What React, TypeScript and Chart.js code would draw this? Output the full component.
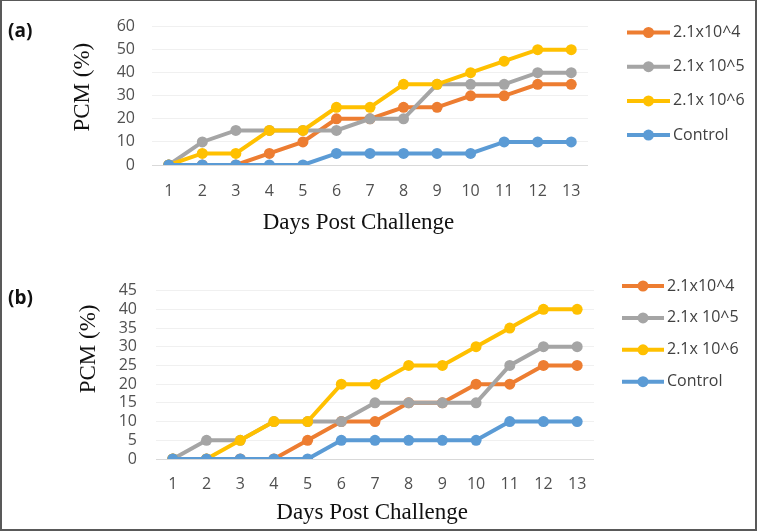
import React, { useEffect, useRef } from "react";
import { Chart, registerables } from "chart.js";

Chart.register(...registerables);

// ---------- data ----------
const days = ["1", "2", "3", "4", "5", "6", "7", "8", "9", "10", "11", "12", "13"];
const seriesLabels = ["2.1x10^4", "2.1x 10^5", "2.1x 10^6", "Control"];
const seriesColors = ["#ED7D31", "#A5A5A5", "#FFC000", "#5B9BD5"];

// panel (a)
const a_e4 = [0, 0, 0, 5, 10, 20, 20, 25, 25, 30, 30, 35, 35];
const a_e5 = [0, 10, 15, 15, 15, 15, 20, 20, 35, 35, 35, 40, 40];
const a_e6 = [0, 5, 5, 15, 15, 25, 25, 35, 35, 40, 45, 50, 50];
const a_ctrl = [0, 0, 0, 0, 0, 5, 5, 5, 5, 5, 10, 10, 10];
const yTicksA = [0, 10, 20, 30, 40, 50, 60];

// panel (b)
const b_e4 = [0, 0, 0, 0, 5, 10, 10, 15, 15, 20, 20, 25, 25];
const b_e5 = [0, 5, 5, 10, 10, 10, 15, 15, 15, 15, 25, 30, 30];
const b_e6 = [0, 0, 5, 10, 10, 20, 20, 25, 25, 30, 35, 40, 40];
const b_ctrl = [0, 0, 0, 0, 0, 5, 5, 5, 5, 5, 10, 10, 10];
const yTicksB = [0, 5, 10, 15, 20, 25, 30, 35, 40, 45];

const xTitle = "Days Post Challenge";
const yTitle = "PCM (%)";

// ---------- custom side legend ----------
const sideLegend = {
  id: "sideLegend",
  afterDraw(chart: any, _args: any, opts: any) {
    const ctx = chart.ctx;
    ctx.save();
    chart.data.datasets.forEach((ds: any, i: number) => {
      const y = opts.y0 + i * opts.dy;
      ctx.strokeStyle = ds.borderColor;
      ctx.lineWidth = 4;
      ctx.beginPath();
      ctx.moveTo(opts.x0, y);
      ctx.lineTo(opts.x1, y);
      ctx.stroke();
      ctx.fillStyle = ds.borderColor;
      ctx.beginPath();
      ctx.arc((opts.x0 + opts.x1) / 2, y, 5.5, 0, Math.PI * 2);
      ctx.fill();
      ctx.fillStyle = "#404040";
      ctx.font = '16px "Open Sans"';
      ctx.textBaseline = "middle";
      ctx.textAlign = "left";
      ctx.fillText(ds.label, opts.textX, y);
    });
    ctx.restore();
  },
};

const tickFont = { family: '"Open Sans"', size: 16 };
const titleFont = { family: '"Liberation Serif", "Times New Roman", serif', size: 23 };

function makeConfig(series: number[][], yTicks: number[], L: any): any {
  const orders = [4, 3, 2, 1];
  return {
    type: "line",
    data: {
      labels: days,
      datasets: series.map((d, i) => ({
        label: seriesLabels[i],
        data: d,
        borderColor: seriesColors[i],
        backgroundColor: seriesColors[i],
        pointBackgroundColor: seriesColors[i],
        pointBorderColor: seriesColors[i],
        borderWidth: 4,
        pointRadius: 5.5,
        pointBorderWidth: 0,
        tension: 0,
        order: orders[i],
      })),
    },
    plugins: [sideLegend],
    options: {
      responsive: false,
      animation: false,
      layout: { padding: { left: 55, top: L.top, right: L.right, bottom: L.bottom } },
      plugins: {
        legend: { display: false },
        tooltip: { enabled: false },
        sideLegend: L.legend,
      },
      scales: {
        x: {
          offset: true,
          grid: { display: false, drawTicks: false },
          border: { display: false },
          ticks: { font: tickFont, color: "#505050", padding: L.xTickPad, maxRotation: 0, autoSkip: false },
          title: { display: true, text: L.xTitle, font: titleFont, color: "#111", padding: 0 },
          afterFit: (s: any) => { s.height = L.xHeight; },
        },
        y: {
          min: 0,
          max: yTicks[yTicks.length - 1],
          afterBuildTicks: (s: any) => { s.ticks = yTicks.map((v) => ({ value: v })); },
          grid: {
            drawTicks: false,
            color: (c: any) => (c.tick && c.tick.value === 0 ? "#d9d9d9" : "#f0f0f0"),
            lineWidth: 1,
          },
          border: { display: false },
          ticks: { font: tickFont, color: "#505050", padding: L.yTickPad, autoSkip: false },
          title: { display: true, text: L.yTitle, font: titleFont, color: "#111", padding: { top: L.yTitlePad, bottom: 0 } },
          afterFit: (s: any) => { s.width = L.yWidth; },
        },
      },
    },
  };
}

export default function App() {
  const refA = useRef<HTMLCanvasElement>(null);
  const refB = useRef<HTMLCanvasElement>(null);

  useEffect(() => {
    const chA = new Chart(
      refA.current as HTMLCanvasElement,
      makeConfig([a_e4, a_e5, a_e6, a_ctrl], yTicksA, {
        top: 15,
        right: 757 - 588,
        bottom: 25,
        xHeight: 72,
        xTickPad: 17,
        yWidth: 97,
        yTickPad: 17,
        yTitlePad: 14,
        xTitle: xTitle + "    ",
        yTitle: "   " + yTitle,
        legend: { x0: 627, x1: 670, textX: 673, y0: 32.5, dy: 34.2 },
      })
    );
    const chB = new Chart(
      refB.current as HTMLCanvasElement,
      makeConfig([b_e4, b_e5, b_e6, b_ctrl], yTicksB, {
        top: 20,
        right: 757 - 594,
        bottom: 4,
        xHeight: 68,
        xTickPad: 16,
        yWidth: 101,
        yTickPad: 19,
        yTitlePad: 20,
        xTitle: xTitle + " ",
        yTitle: "         " + yTitle,
        legend: { x0: 622, x1: 664, textX: 667, y0: 24, dy: 31.9 },
      })
    );
    return () => {
      chA.destroy();
      chB.destroy();
    };
  }, []);

  const labelStyle: React.CSSProperties = {
    position: "absolute",
    left: 8,
    fontFamily: '"Open Sans", sans-serif',
    fontWeight: 700,
    fontSize: 19,
    lineHeight: "20px",
    color: "#111",
  };

  return (
    <div style={{ position: "absolute", left: 0, top: 0, width: 757, height: 531, background: "#fff", overflow: "hidden" }}>
      <canvas ref={refA} width={757} height={262} style={{ position: "absolute", left: 0, top: 0 }} />
      <canvas ref={refB} width={757} height={269} style={{ position: "absolute", left: 0, top: 262 }} />
      <div style={{ ...labelStyle, top: 20 }}>(a)</div>
      <div style={{ ...labelStyle, top: 287 }}>(b)</div>
      <div
        style={{
          position: "absolute",
          left: 0,
          top: 0,
          width: 757,
          height: 531,
          boxSizing: "border-box",
          borderLeft: "2px solid #595959",
          borderTop: "1px solid #595959",
          borderRight: "2px solid #595959",
          borderBottom: "2px solid #595959",
          pointerEvents: "none",
        }}
      />
    </div>
  );
}
